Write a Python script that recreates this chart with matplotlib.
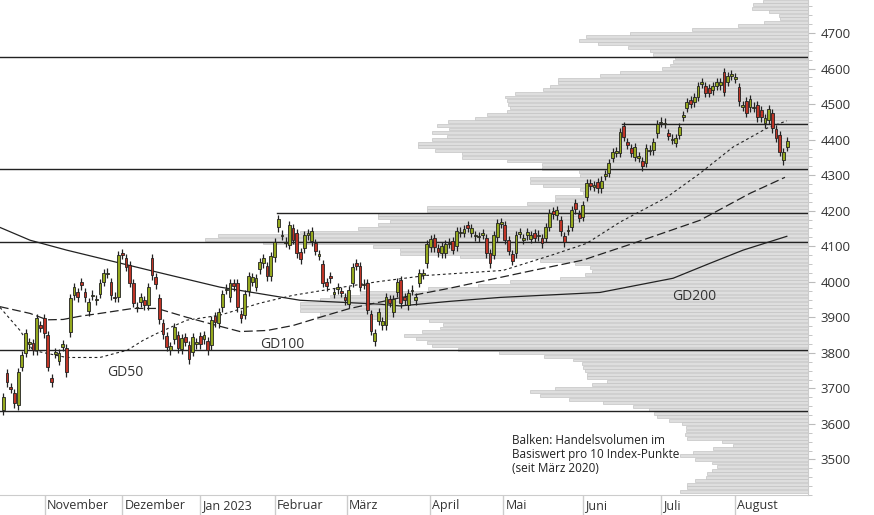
import numpy as np
import matplotlib
matplotlib.use("Agg")
import matplotlib.pyplot as plt
import matplotlib.transforms as mtrans

# Tageskerzen (Eröffnung, Schluss)
opens = [3638, 3742, 3703, 3686, 3652, 3760, 3800, 3824, 3827, 3807, 3878, 3897, 3850, 3728, 3798,
         3778, 3816, 3813, 3858, 3962, 3970, 3999, 3970, 3917, 3960, 3948, 3965, 3999, 4022, 3999,
         3958, 3956, 4080, 4066, 4046, 3996, 3926, 3942, 3948, 3934, 4066, 4013, 3953, 3883, 3847,
         3807, 3838, 3850, 3810, 3844, 3821, 3802, 3824, 3847, 3838, 3833, 3821, 3903, 3883, 3928,
         3977, 3956, 3996, 3996, 3908, 3906, 3973, 3999, 3985, 4035, 4052, 4044, 4015, 4069, 4153,
         4129, 4109, 4103, 4150, 4137, 4083, 4094, 4131, 4114, 4108, 4073, 4049, 3999, 4015, 3966,
         3979, 3973, 3956, 3937, 3996, 4052, 4044, 3991, 3996, 3908, 3832, 3889, 3877, 3877, 3951,
         3914, 3970, 4004, 3956, 3934, 3974, 3948, 3996, 4020, 4052, 4097, 4123, 4094, 4080, 4080,
         4106, 4114, 4100, 4137, 4137, 4159, 4137, 4128, 4125, 4132, 4123, 4080, 4075, 4125, 4163,
         4159, 4117, 4077, 4080, 4135, 4118, 4131, 4120, 4137, 4128, 4123, 4123, 4154, 4199, 4187,
         4173, 4128, 4143, 4154, 4221, 4190, 4182, 4238, 4277, 4268, 4280, 4263, 4298, 4306, 4348,
         4363, 4362, 4438, 4393, 4376, 4351, 4349, 4339, 4334, 4368, 4370, 4418, 4447, 4444, 4418,
         4399, 4390, 4413, 4464, 4489, 4511, 4505, 4520, 4557, 4551, 4545, 4539, 4551, 4553, 4590,
         4562, 4580, 4571, 4548, 4492, 4508, 4491, 4489, 4497, 4483, 4446, 4455, 4475, 4429, 4413,
         4342, 4379]
closes = [3675, 3717, 3698, 3658, 3745, 3793, 3855, 3830, 3807, 3897, 3870, 3855, 3760, 3717, 3802,
          3800, 3824, 3745, 3953, 3985, 3956, 3990, 3956, 3942, 3964, 3952, 3996, 4024, 4026, 3962,
          3954, 4075, 4075, 4041, 3996, 3940, 3930, 3956, 3934, 3985, 4018, 3993, 3894, 3852, 3816,
          3818, 3872, 3813, 3841, 3830, 3782, 3844, 3830, 3824, 3850, 3807, 3892, 3886, 3914, 3965,
          3981, 3996, 3987, 3928, 3897, 3965, 4015, 4013, 4010, 4055, 4066, 4015, 4072, 4111, 4176,
          4133, 4113, 4159, 4117, 4080, 4063, 4131, 4136, 4142, 4086, 4077, 3996, 3987, 4010, 3970,
          3985, 3968, 3948, 3976, 4041, 4044, 3985, 3995, 3920, 3861, 3855, 3914, 3889, 3956, 3940,
          3951, 3999, 3939, 3948, 3968, 3978, 3956, 4024, 4024, 4106, 4120, 4097, 4083, 4100, 4106,
          4110, 4089, 4142, 4141, 4148, 4151, 4150, 4132, 4129, 4136, 4080, 4052, 4131, 4165, 4167,
          4117, 4086, 4058, 4131, 4139, 4122, 4139, 4131, 4123, 4133, 4108, 4154, 4193, 4190, 4201,
          4142, 4111, 4147, 4201, 4204, 4179, 4215, 4277, 4269, 4272, 4263, 4285, 4302, 4334, 4365,
          4367, 4421, 4407, 4385, 4362, 4379, 4353, 4325, 4376, 4372, 4393, 4444, 4451, 4448, 4410,
          4403, 4404, 4435, 4468, 4505, 4500, 4520, 4551, 4561, 4531, 4531, 4551, 4562, 4562, 4534,
          4579, 4584, 4575, 4508, 4497, 4475, 4514, 4493, 4463, 4463, 4460, 4486, 4432, 4404, 4365,
          4365, 4396]

# Gleitende Durchschnitte: (Kerzen-Index, Wert)
gd50_idx = [-0.9, 4.5, 8, 17, 26, 30.6, 33.3, 37.6, 41.4, 49.4, 58.3, 69.1, 78, 91.4, 100.6, 114, 134.5, 147.6, 157, 166, 178.6, 187.5, 196.4, 205.5, 210.9]
gd50_val = [3928, 3863, 3807, 3787, 3787, 3800, 3807, 3835, 3855, 3892, 3906, 3940, 3962, 3985, 4000, 4018, 4032, 4075, 4108, 4168, 4238, 4305, 4379, 4432, 4453]
gd100_idx = [-0.9, 7.2, 11.8, 16.1, 20.6, 26, 34.9, 41.4, 49.4, 57.5, 63.7, 71, 78, 87.1, 93.3, 106.8, 120.2, 142.6, 156, 169.5, 187.5, 201, 210.4]
gd100_val = [3930, 3911, 3893, 3894, 3903, 3911, 3925, 3925, 3900, 3877, 3860, 3863, 3877, 3906, 3925, 3955, 3982, 4032, 4061, 4108, 4173, 4249, 4294]
gd200_idx = [-0.9, 7.2, 17.1, 39.5, 58.3, 79.9, 101.4, 106.8, 120.2, 133.7, 160.6, 180.3, 190.2, 199.1, 210.9]
gd200_val = [4153, 4117, 4089, 4032, 3985, 3948, 3937, 3932, 3945, 3956, 3970, 4010, 4052, 4089, 4128]

# Volumenprofil pro 10 Index-Punkte, ab 3410
vol_prices = np.arange(3410, 4800, 10)
volumes = [128, 121, 121, 113, 102, 101, 96, 91, 96, 113,
           128, 115, 95, 75, 86, 121, 123, 122, 122, 126,
           139, 151, 154, 159, 175, 205, 239, 268, 278, 253,
           216, 201, 221, 221, 223, 225, 226, 235, 264, 309,
           350, 376, 381, 392, 404, 386, 368, 365, 379, 491,
           488, 508, 508, 508, 488, 478, 448, 380, 330, 298,
           248, 223, 216, 218, 233, 268, 348, 408, 408, 435,
           545, 603, 590, 508, 450, 430, 418, 430, 430, 381,
           381, 281, 253, 253, 225, 228, 265, 278, 278, 228,
           229, 266, 266, 301, 346, 346, 373, 390, 390, 376,
           361, 376, 359, 371, 360, 333, 321, 301, 298, 300,
           301, 303, 293, 265, 258, 250, 250, 208, 188, 146,
           138, 135, 133, 155, 158, 180, 210, 229, 222, 178,
           116, 70, 44, 28, 29, 39, 56, 55, 45]

# horizontale Linien: (Wert, Start-Index)
levels = [4632, 4317, 4111, 3807, 3635]
short_levels = [(4193, 73.7), (4444, 166.5)]

month_pos = [11.2, 32, 53, 73.1, 92.5, 114.9, 134.6, 156, 177, 197]
month_labels = ["November", "Dezember", "Jan 2023", "Februar", "März", "April", "Mai", "Juni", "Juli", "August"]

plt.rcParams['font.family'] = ['Open Sans', 'DejaVu Sans']

fig = plt.figure(figsize=(8.74, 5.15), dpi=100)
axw = 808 / 874
ax2 = fig.add_axes([0, 20 / 515, axw, 495 / 515])
ax = fig.add_axes([0, 20 / 515, axw, 495 / 515], sharey=ax2)
ax.set_zorder(2)
ax.patch.set_visible(False)

# Volumenbalken von rechts
ax2.barh(vol_prices, volumes, height=8.2, color='#dedede', edgecolor='#c4c4c4', linewidth=0.5)
ax2.set_xlim(808, 0)
ax2.axis('off')

xlo, xhi = -0.89, 216.6
for lv in levels:
    ax.plot([xlo, xhi], [lv, lv], color='#222222', lw=1.0, zorder=3)
for lv, start in short_levels:
    ax.plot([start, xhi], [lv, lv], color='#222222', lw=1.0, zorder=3)

ax.plot(gd200_idx, gd200_val, color='#222222', lw=0.9, zorder=3)
ax.plot(gd100_idx, gd100_val, color='#222222', lw=0.9, ls=(0, (7, 3)), zorder=3)
ax.plot(gd50_idx, gd50_val, color='#222222', lw=0.8, ls=(0, (2.5, 2.5)), zorder=3)

x = np.arange(len(closes))
o = np.array(opens)
c = np.array(closes)
up = c >= o
top = np.maximum(o, c)
bot = np.minimum(o, c)
ax.vlines(x, bot - 12, top + 12, color='#222222', lw=0.9, zorder=4)
ax.bar(x, np.maximum(top - bot, 4), bottom=bot, width=0.75,
       color=np.where(up, '#94a81e', '#bf3426'), edgecolor='#222222', linewidth=0.6, zorder=5)

ax.text(27.9, 3745, "GD50", fontsize=10, color='#333333', va='center', zorder=6)
ax.text(69, 3824, "GD100", fontsize=10, color='#333333', va='center', zorder=6)
ax.text(180, 3959, "GD200", fontsize=10, color='#333333', va='center', zorder=6)
ax.text(137, 3573, "Balken: Handelsvolumen im\nBasiswert pro 10 Index-Punkte\n(seit März 2020)",
        fontsize=8.5, color='#222222', va='top', linespacing=1.1, zorder=6)

ax.set_xlim(xlo, xhi)
ax.set_ylim(3400, 4793)
ax.yaxis.tick_right()
ax.set_yticks(np.arange(3500, 4701, 100))
ax.set_yticks(np.arange(3400, 4800, 25), minor=True)
ax.tick_params(axis='y', which='major', length=5, color='#bbbbbb', labelsize=9.5, labelcolor='#333333', pad=4)
ax.tick_params(axis='y', which='minor', length=3, color='#bbbbbb')
ax.set_xticks(month_pos)
ax.set_xticklabels([])
ax.tick_params(axis='x', length=20, color='#cccccc', width=1)
trans = mtrans.blended_transform_factory(ax.transData, ax.transAxes)
for pos, lab in zip(month_pos, month_labels):
    ax.text(pos + 0.6, -0.008, lab, transform=trans, ha='left', va='top', fontsize=9, color='#333333')
for s in ['top', 'left']:
    ax.spines[s].set_visible(False)
ax.spines['bottom'].set_color('#cccccc')
ax.spines['right'].set_color('#cccccc')

fig.savefig("out.png", dpi=100)
